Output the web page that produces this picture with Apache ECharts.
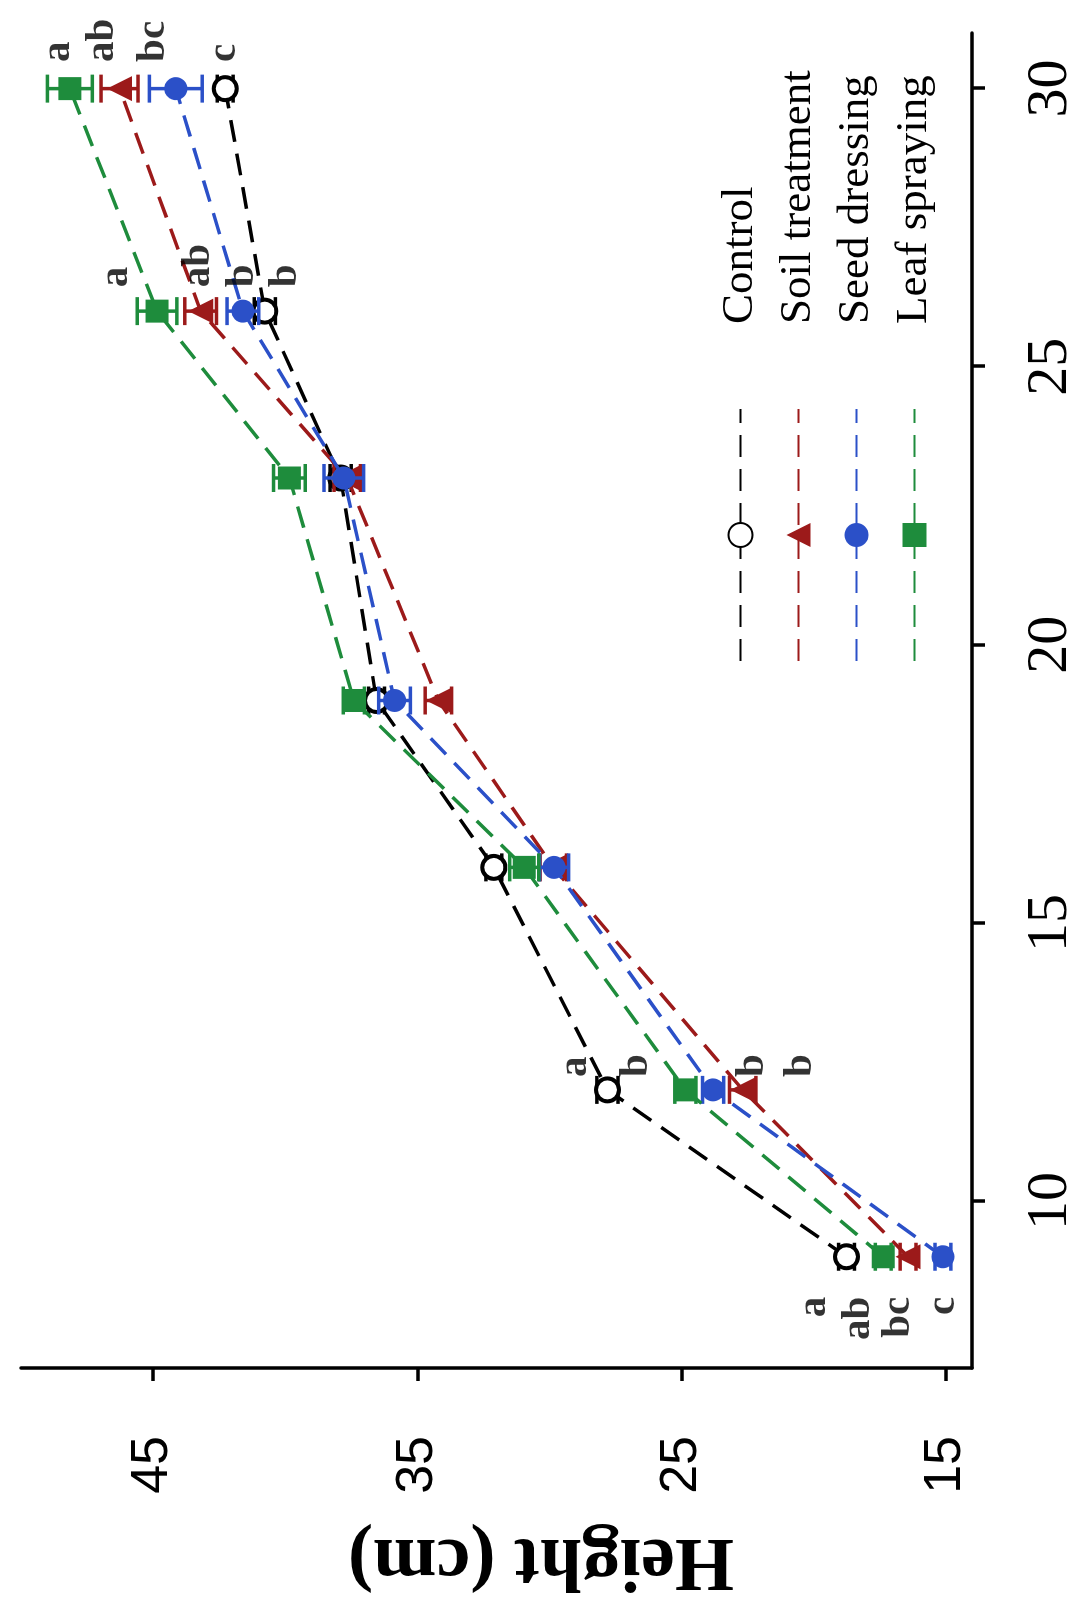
<!DOCTYPE html>
<html>
<head>
<meta charset="utf-8">
<script src="https://cdn.jsdelivr.net/npm/echarts@6/dist/echarts.min.js"></script>
<style>
html, body { margin: 0; padding: 0; background: #ffffff; overflow: hidden; width: 1080px; height: 1612px; }
#wrap { position: absolute; left: 0; top: 0; width: 1612px; height: 1080px; transform-origin: 0 0; transform: translate(0px, 1612px) rotate(-90deg); background: #ffffff; }
#chart { width: 1612px; height: 1080px; }
</style>
</head>
<body>
<div id="wrap"><div id="chart"></div></div>
<script>
// ---- data ----
const days = [9, 12, 16, 19, 23, 26, 30];
const seriesNames = ['Control', 'Soil treatment', 'Seed dressing', 'Leaf spraying'];
const controlH = [18.75, 27.8, 32.1, 36.54, 37.9, 40.77, 42.27];
const soilH    = [16.42, 22.68, 29.85, 34.2, 37.65, 43.2, 46.27];
const seedH    = [15.1, 23.8, 29.82, 35.86, 37.78, 41.6, 44.14];
const leafH    = [17.36, 24.85, 30.95, 37.4, 39.84, 44.85, 48.15];
const controlErr = [0.3, 0.4, 0.3, 0.3, 0.4, 0.4, 0.3];
const soilErr    = [0.3, 0.5, 0.5, 0.5, 0.5, 0.6, 0.7];
const seedErr    = [0.3, 0.4, 0.55, 0.6, 0.75, 0.6, 1.0];
const leafErr    = [0.3, 0.4, 0.55, 0.4, 0.6, 0.75, 0.85];
const xTicks = [10, 15, 20, 25, 30];
const yTicks = [15, 25, 35, 45];
// significance letters placed before (left of) the first points
const preLetterDays = [8.28, 8.28, 8.28, 8.28];
const preLetterHeights = [19.95, 18.3, 16.8, 15.08];
const preLetterTexts = ['a', 'ab', 'bc', 'c'];
// significance letters placed after (right of) points
const postLetterDays = [12.23, 12.23, 12.23, 12.23, 26.43, 26.43, 26.43, 26.43, 30.48, 30.48, 30.48, 30.48];
const postLetterHeights = [29.0, 26.7, 22.3, 20.5, 46.4, 43.3, 41.6, 40.0, 48.6, 46.9, 45.0, 42.3];
const postLetterTexts = ['a', 'b', 'b', 'b', 'a', 'ab', 'b', 'b', 'a', 'ab', 'bc', 'c'];

// ---- styles ----
const colors = ['#000000', '#9c1a1a', '#2b50c8', '#1e8c3c'];
const symbols = ['circle', 'triangle', 'circle', 'rect'];
const heights = [controlH, soilH, seedH, leafH];
const errs = [controlErr, soilErr, seedErr, leafErr];

const chart = echarts.init(document.getElementById('chart'), null, { renderer: 'canvas' });

const series = [];
heights.forEach(function (hs, i) {
  const c = colors[i];
  series.push({
    name: seriesNames[i],
    type: 'line',
    data: days.map(function (d, k) { return [d, hs[k]]; }),
    symbol: symbols[i],
    symbolSize: i === 1 ? 25 : 23,
    showAllSymbol: true,
    z: 3 + i,
    lineStyle: { color: c, width: 3.5, type: [22, 12] },
    itemStyle: i === 0 ? { color: '#ffffff', borderColor: '#000000', borderWidth: 4 } : { color: c, borderColor: c, borderWidth: 0 },
    emphasis: { disabled: true }
  });
});
heights.forEach(function (hs, i) {
  const c = colors[i];
  series.push({
    name: seriesNames[i] + ' error',
    type: 'custom',
    z: 3 + i,
    data: days.map(function (d, k) { return [d, hs[k] - errs[i][k], hs[k] + errs[i][k]]; }),
    renderItem: function (params, api) {
      const lo = api.coord([api.value(0), api.value(1)]);
      const hi = api.coord([api.value(0), api.value(2)]);
      const hw = 14;
      const st = { stroke: c, lineWidth: 3.5 };
      return {
        type: 'group',
        children: [
          { type: 'line', shape: { x1: lo[0], y1: lo[1], x2: hi[0], y2: hi[1] }, style: st },
          { type: 'line', shape: { x1: lo[0] - hw, y1: lo[1], x2: lo[0] + hw, y2: lo[1] }, style: st },
          { type: 'line', shape: { x1: hi[0] - hw, y1: hi[1], x2: hi[0] + hw, y2: hi[1] }, style: st }
        ]
      };
    }
  });
});
const letterFont = { fontFamily: 'Liberation Serif', fontWeight: 'bold', fontSize: 41, color: '#000000' };
series.push({
  name: 'letters-pre',
  type: 'scatter',
  symbolSize: 0,
  z: 10,
  data: preLetterDays.map(function (d, k) { return { value: [d, preLetterHeights[k]], name: preLetterTexts[k] }; }),
  label: Object.assign({ show: true, position: 'left', distance: 0, formatter: '{b}', align: 'right', verticalAlign: 'middle' }, letterFont),
  emphasis: { disabled: true }
});
series.push({
  name: 'letters-post',
  type: 'scatter',
  symbolSize: 0,
  z: 10,
  data: postLetterDays.map(function (d, k) { return { value: [d, postLetterHeights[k]], name: postLetterTexts[k] }; }),
  label: Object.assign({ show: true, position: 'right', distance: 0, formatter: '{b}', align: 'left', verticalAlign: 'middle' }, letterFont),
  emphasis: { disabled: true }
});

const option = {
  backgroundColor: '#ffffff',
  animation: false,
  grid: { left: 244, right: 33, top: 21, bottom: 102, containLabel: false },
  legend: {
    data: seriesNames,
    orient: 'vertical',
    left: 945,
    top: 713,
    itemWidth: 252,
    itemHeight: 30,
    itemGap: 13,
    selectedMode: false,
    textStyle: { fontFamily: 'Liberation Serif', fontSize: 45, lineHeight: 45, color: '#000000', padding: [0, 0, 0, 80] }
  },
  xAxis: {
    type: 'value',
    min: 7,
    max: 31,
    position: 'bottom',
    axisLine: { show: true, onZero: false, lineStyle: { color: '#000000', width: 3.5 } },
    axisTick: { show: true, customValues: xTicks, length: 13, lineStyle: { color: '#000000', width: 3.5 } },
    axisLabel: { show: true, customValues: xTicks, margin: 50, fontFamily: 'Liberation Serif', fontSize: 58, color: '#000000' },
    splitLine: { show: false }
  },
  yAxis: {
    type: 'value',
    min: 14,
    max: 50,
    position: 'left',
    axisLine: { show: true, onZero: false, lineStyle: { color: '#000000', width: 3.5 } },
    axisTick: { show: true, customValues: yTicks, length: 13, lineStyle: { color: '#000000', width: 3.5 } },
    axisLabel: { show: true, customValues: yTicks, margin: 68, fontFamily: 'Liberation Sans', fontSize: 52, color: '#000000' },
    splitLine: { show: false }
  },
  graphic: [{
    type: 'text',
    x: 52,
    y: 541,
    rotation: Math.PI / 2,
    style: { text: 'Height (cm)', fontFamily: 'Liberation Serif', fontWeight: 'bold', fontSize: 76, fill: '#000000', align: 'center', verticalAlign: 'middle' }
  }],
  series: series
};
chart.setOption(option);
</script>
</body>
</html>
